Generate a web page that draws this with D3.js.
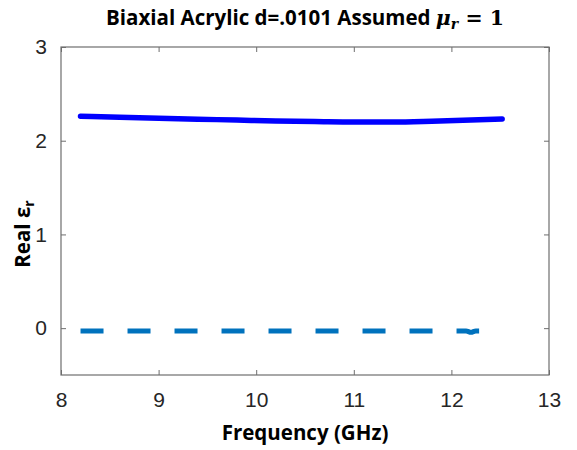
<!DOCTYPE html>
<html><head><meta charset="utf-8">
<script src="https://cdn.jsdelivr.net/npm/d3@7"></script>
<style>body{margin:0;background:#fff}svg{display:block}</style>
</head><body>
<svg id="c" width="577" height="450"></svg>
<script>
const freq = [8.2, 8.6, 9.0, 9.4, 9.8, 10.2, 10.6, 11.0, 11.4, 11.8, 12.2, 12.52];
const realEps = [2.262, 2.25, 2.24, 2.23, 2.22, 2.21, 2.205, 2.2, 2.2, 2.208, 2.22, 2.232];
const freqDash = [8.2, 9.0, 10.0, 11.0, 12.0, 12.15, 12.2, 12.25, 12.52];
const imagEps = [-0.03, -0.03, -0.03, -0.03, -0.03, -0.03, -0.045, -0.03, -0.03];
const xTicks = [8, 9, 10, 11, 12, 13];
const yTicks = [0, 1, 2, 3];

const svg = d3.select("#c");
const m = {l: 61, r: 549, t: 47, b: 375};
const x = d3.scaleLinear().domain([8, 13]).range([m.l, m.r]);
const y = d3.scaleLinear().domain([-0.5, 3]).range([m.b, m.t]);

const axisColor = "#262626";
svg.append("rect").attr("x", m.l).attr("y", m.t).attr("width", m.r - m.l).attr("height", m.b - m.t)
  .attr("fill", "none").attr("stroke", "#6e6e6e").attr("stroke-width", 1.2);

const gx = svg.append("g").attr("transform", `translate(0,${m.b})`)
  .call(d3.axisBottom(x).tickValues(xTicks).tickSize(-5).tickPadding(14).tickFormat(d3.format("d")));
const gxt = svg.append("g").attr("transform", `translate(0,${m.t})`)
  .call(d3.axisTop(x).tickValues(xTicks).tickSize(-5).tickFormat(""));
const gy = svg.append("g").attr("transform", `translate(${m.l},0)`)
  .call(d3.axisLeft(y).tickValues(yTicks).tickSize(-5).tickPadding(14).tickFormat(d3.format("d")));
const gyr = svg.append("g").attr("transform", `translate(${m.r},0)`)
  .call(d3.axisRight(y).tickValues(yTicks).tickSize(-5).tickFormat(""));
[gx, gxt, gy, gyr].forEach(g => {
  g.select(".domain").remove();
  g.selectAll(".tick line").attr("stroke", "#6e6e6e");
  g.selectAll("text").attr("font-family", "Liberation Sans, Arial, sans-serif")
    .attr("font-size", 21).attr("fill", axisColor);
});
gx.selectAll("text").attr("dy", "0.85em");

const line = d3.line().x(d => x(d[0])).y(d => y(d[1])).curve(d3.curveMonotoneX);
svg.append("path").datum(freqDash.map((f, i) => [f, imagEps[i]]))
  .attr("d", line).attr("fill", "none").attr("stroke", "#0072BD")
  .attr("stroke-width", 5).attr("stroke-dasharray", "23,24");
svg.append("path").datum(freq.map((f, i) => [f, realEps[i]]))
  .attr("d", line).attr("fill", "none").attr("stroke", "#0000FF")
  .attr("stroke-width", 5.5).attr("stroke-linecap", "round");

// title
const t = svg.append("text").attr("x", 305).attr("y", 25).attr("text-anchor", "middle")
  .attr("font-family", "Open Sans, Liberation Sans, sans-serif").attr("font-weight", "bold")
  .attr("font-size", 20.5).attr("fill", "#000");
t.append("tspan").text("Biaxial Acrylic d=.0101 Assumed ");
t.append("tspan").attr("font-family", "DejaVu Serif, serif").attr("font-style", "italic").text("μ");
t.append("tspan").attr("font-family", "DejaVu Serif, serif").attr("font-style", "italic")
  .attr("font-size", 14).attr("dy", 4).text("r");
t.append("tspan").attr("font-family", "DejaVu Serif, serif").attr("dy", -4).text(" = 1");

// x label
svg.append("text").attr("x", 305).attr("y", 440).attr("text-anchor", "middle")
  .attr("font-family", "Open Sans, Liberation Sans, sans-serif").attr("font-weight", "bold")
  .attr("font-size", 20.5).attr("fill", "#000").text("Frequency (GHz)");

// y label
const yl = svg.append("text").attr("transform", "translate(30,234) rotate(-90)").attr("text-anchor", "middle")
  .attr("font-family", "Open Sans, Liberation Sans, sans-serif").attr("font-weight", "bold")
  .attr("font-size", 20.5).attr("fill", "#000");
yl.append("tspan").text("Real ε");
yl.append("tspan").attr("font-size", 14).attr("dy", 4).text("r");
</script>
</body></html>
